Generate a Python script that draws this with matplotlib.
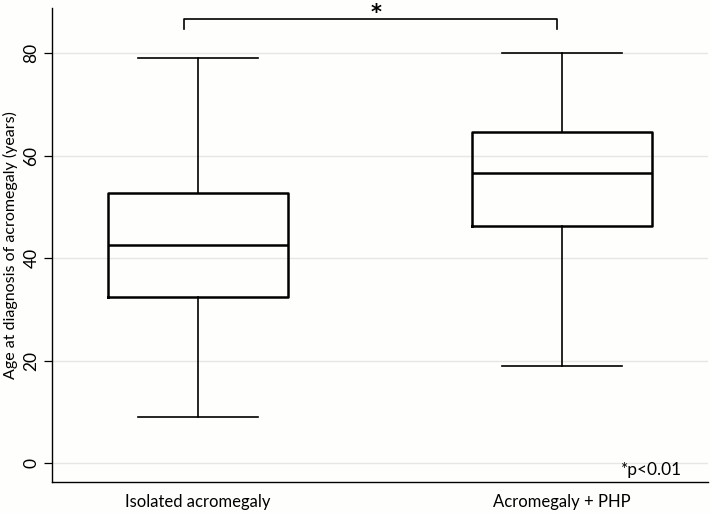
import matplotlib
matplotlib.use("Agg")
import matplotlib.pyplot as plt

# Values
groups = ["Isolated acromegaly", "Acromegaly + PHP"]
whisker_low = [9, 19]
q1 = [32.4, 46.3]
median = [42.5, 56.6]
q3 = [52.8, 64.7]
whisker_high = [79, 80]
y_ticks = [0, 20, 40, 60, 80]

plt.rcParams['font.family'] = ['Lato', 'DejaVu Sans']

fig = plt.figure(figsize=(7.1, 5.13), dpi=100, facecolor='#fefefc')
ax = fig.add_axes([52 / 710, 31 / 513, 656 / 710, 474 / 513])
ax.set_facecolor('#fefefc')

stats = []
for i, name in enumerate(groups):
    stats.append({
        'label': name,
        'whislo': whisker_low[i],
        'q1': q1[i],
        'med': median[i],
        'q3': q3[i],
        'whishi': whisker_high[i],
        'fliers': [],
    })

ax.bxp(stats, positions=[1, 2], widths=0.495, showfliers=False,
       boxprops=dict(color='black', linewidth=1.8),
       medianprops=dict(color='black', linewidth=1.8),
       whiskerprops=dict(color='black', linewidth=1.2),
       capprops=dict(color='black', linewidth=1.2),
       capwidths=0.33, zorder=3)

# grid lines
for t in y_ticks:
    ax.axhline(t, color='#e6e6e6', linewidth=1.0, zorder=0)

ax.set_xlim(0.598, 2.402)
ax.set_ylim(-3.64, 88.8)
ax.set_yticks(y_ticks)
ax.set_yticklabels([str(t) for t in y_ticks], rotation=90, va='center', fontsize=12.5)
ax.tick_params(axis='y', length=6, width=0.9, pad=3)
ax.tick_params(axis='x', length=0, pad=9, labelsize=12)
ax.set_ylabel('Age at diagnosis of acromegaly (years)', fontsize=11.5, labelpad=4)

for s in ['top', 'right']:
    ax.spines[s].set_visible(False)
ax.spines['left'].set_linewidth(1.0)
ax.spines['bottom'].set_linewidth(1.0)

# significance bracket
ax.plot([0.962, 0.962, 1.988, 1.988], [84.7, 86.7, 86.7, 84.7],
        color='black', linewidth=1.2, clip_on=False)
ax.text(1.49, 87.9, '*', ha='center', va='center', fontsize=15,
        fontweight='bold', family='DejaVu Sans', clip_on=False)

ax.text(2.33, -1.3, '*p<0.01', ha='right', va='center', fontsize=12.5)

fig.savefig('out.png', dpi=100, facecolor=fig.get_facecolor())
